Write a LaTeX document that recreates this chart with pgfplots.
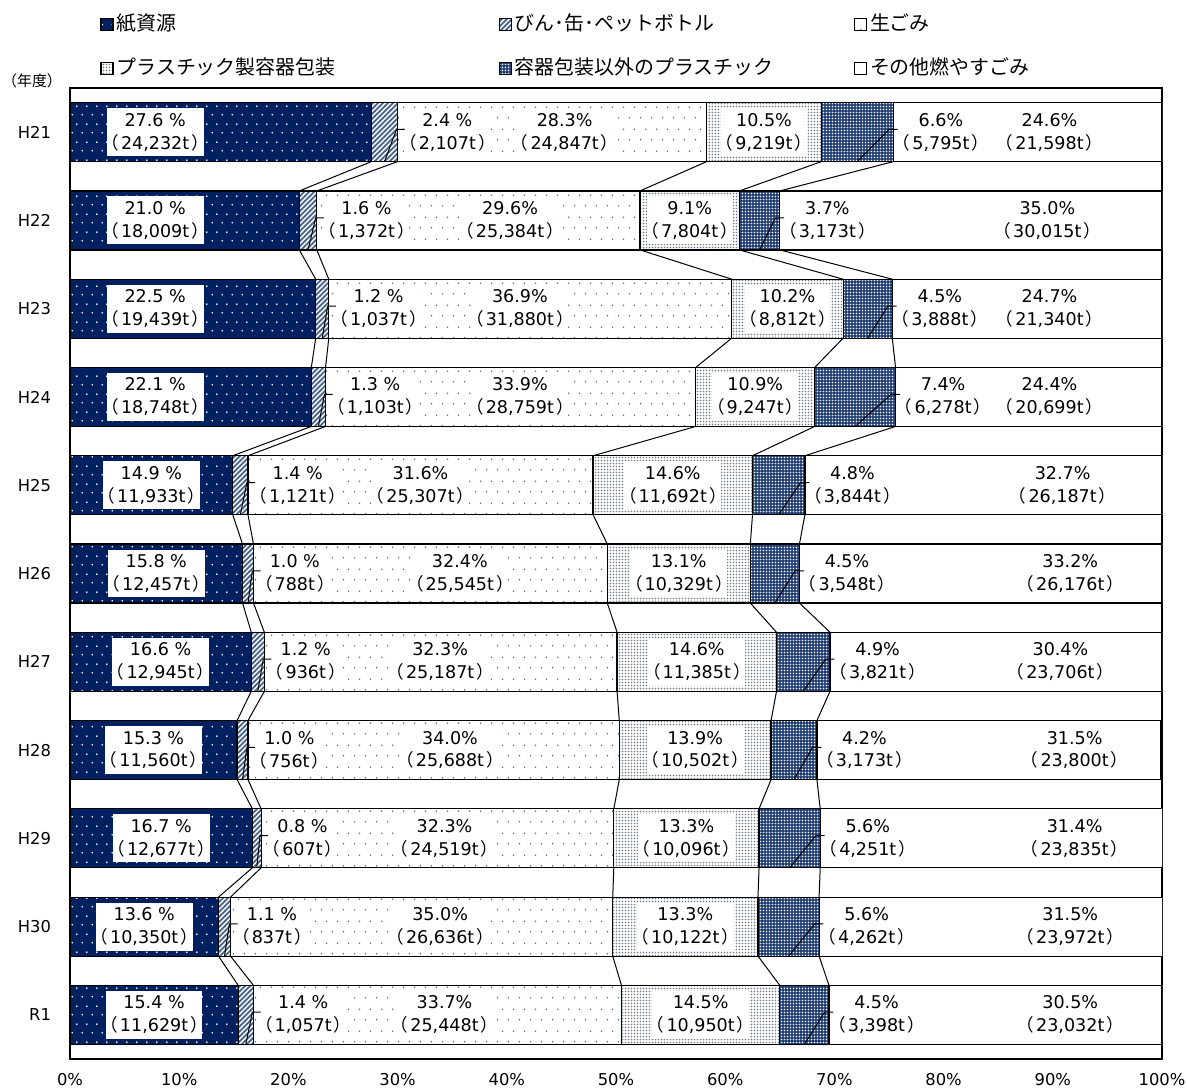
\documentclass[border=0pt]{standalone}
\usepackage{fontspec}
\setmainfont{DejaVu Sans}
\newfontfamily\cjk{Noto Sans CJK JP}
\usepackage{pgfplots}
\pgfplotsset{compat=1.18}
\usepackage{pgfplotstable}
\usetikzlibrary{patterns}

\definecolor{paper}{HTML}{002060}
\definecolor{plas}{HTML}{1F3D73}
\definecolor{hatchc}{HTML}{44607F}
\definecolor{binbg}{HTML}{EEF2F7}
\definecolor{dotgray}{HTML}{707070}
\definecolor{packdot}{HTML}{6F7A8A}

\pgfkeys{/pgf/number format/assume math mode=true}

% fill patterns
\pgfdeclarepatternformonly{paperdots}{\pgfqpoint{0bp}{0bp}}{\pgfqpoint{5bp}{9bp}}{\pgfqpoint{5bp}{9bp}}{%
  \pgfpathcircle{\pgfqpoint{1.25bp}{2.25bp}}{0.5bp}%
  \pgfpathcircle{\pgfqpoint{3.75bp}{6.75bp}}{0.5bp}%
  \pgfusepath{fill}}
\pgfdeclarepatternformonly{fooddots}{\pgfqpoint{0bp}{0bp}}{\pgfqpoint{5.5bp}{11bp}}{\pgfqpoint{5.5bp}{11bp}}{%
  \pgfpathcircle{\pgfqpoint{1.4bp}{2.75bp}}{0.45bp}%
  \pgfpathcircle{\pgfqpoint{4.1bp}{8.25bp}}{0.45bp}%
  \pgfusepath{fill}}
\pgfdeclarepatternformonly{densedots}{\pgfqpoint{0bp}{0bp}}{\pgfqpoint{1.5bp}{1.5bp}}{\pgfqpoint{1.5bp}{1.5bp}}{%
  \pgfpathcircle{\pgfqpoint{0.75bp}{0.75bp}}{0.42bp}%
  \pgfusepath{fill}}
\pgfdeclarepatternformonly{whitedots}{\pgfqpoint{0bp}{0bp}}{\pgfqpoint{1.5bp}{1.5bp}}{\pgfqpoint{1.5bp}{1.5bp}}{%
  \pgfpathcircle{\pgfqpoint{0.75bp}{0.75bp}}{0.42bp}%
  \pgfusepath{fill}}
\pgfdeclarepatternformonly{hatch}{\pgfqpoint{-1bp}{-1bp}}{\pgfqpoint{3.5bp}{3.5bp}}{\pgfqpoint{2.5bp}{2.5bp}}{%
  \pgfsetlinewidth{0.75bp}%
  \pgfpathmoveto{\pgfqpoint{-0.1bp}{-0.1bp}}\pgfpathlineto{\pgfqpoint{2.6bp}{2.6bp}}%
  \pgfusepath{stroke}}

\tikzset{
  lab/.style={fill=white, inner xsep=1bp, inner ysep=2.5bp, align=center,
      font=\fontsize{8.8}{11.5}\selectfont},
  lead/.style={black, line width=0.5bp},
  sl/.style={black, line width=0.5bp},
}

% percent (fiscal year shares) and tonnage
\pgfplotstableread{
row paper bin food pack plas other tpaper tbin tfood tpack tplas tother xpaper xfood xother
0  27.6 2.4 28.3 10.5 6.6 24.6 24232 2107 24847 9219  5795 21598 7.8  45.3 89.7
1  21.0 1.6 29.6 9.1  3.7 35.0 18009 1372 25384 7804  3173 30015 7.8  40.3 89.5
2  22.5 1.2 36.9 10.2 4.5 24.7 19439 1037 31880 8812  3888 21340 7.8  41.2 89.7
3  22.1 1.3 33.9 10.9 7.4 24.4 18748 1103 28759 9247  6278 20699 7.8  41.2 89.7
4  14.9 1.4 31.6 14.6 4.8 32.7 11933 1121 25307 11692 3844 26187 7.45 32.1 90.9
5  15.8 1.0 32.4 13.1 4.5 33.2 12457 788  25545 10329 3548 26176 7.9  35.7 91.6
6  16.6 1.2 32.3 14.6 4.9 30.4 12945 936  25187 11385 3821 23706 8.3  33.9 90.7
7  15.3 1.0 34.0 13.9 4.2 31.5 11560 756  25688 10502 3173 23800 7.65 34.8 92.0
8  16.7 0.8 32.3 13.3 5.6 31.4 12677 607  24519 10096 4251 23835 8.35 34.3 92.0
9  13.6 1.1 35.0 13.3 5.6 31.5 10350 837  26636 10122 4262 23972 6.8  33.9 91.6
10 15.4 1.4 33.7 14.5 4.5 30.5 11629 1057 25448 10950 3398 23032 7.7  34.3 91.6
}\data

\newcommand\getv[3]{\pgfplotstablegetelem{#1}{#2}\of\data\let#3\pgfplotsretval}
\newcommand\tons[1]{\kern-0.42em{\cjk （}\kern0.12em\pgfmathprintnumber[fixed,precision=0,1000 sep={,}]{#1}t\kern0.12em{\cjk ）}\kern-0.42em}
\newcommand\labs[2]{\pgfmathprintnumber[fixed,fixed zerofill,precision=1]{#1} \%\\\tons{#2}}
\newcommand\labn[2]{\pgfmathprintnumber[fixed,fixed zerofill,precision=1]{#1}\%\\\tons{#2}}

\begin{document}
\begin{tikzpicture}
\begin{axis}[
    at={(0,0)}, anchor=south west,
    scale only axis, width=546bp, height=485.5bp,
    xbar stacked, bar width=29.5bp,
    xmin=0, xmax=100, ymin=-0.5, ymax=10.5, y dir=reverse,
    xtick={0,10,...,100},
    xticklabel={\pgfmathprintnumber{\tick}\%},
    ytick={0,...,10},
    yticklabels={H21,H22,H23,H24,H25,H26,H27,H28,H29,H30,R1},
    tick style={draw=none},
    axis line style={black, line width=0.7bp},
    ticklabel style={font=\fontsize{8.2}{9.8}\selectfont},
    yticklabel style={xshift=-6bp},
    xticklabel style={yshift=-3.5bp},
    legend columns=3,
    legend cell align=left,
    legend style={at={(0.0275,1.043)}, anchor=west, draw=none, fill=none,
        inner sep=0pt, row sep=12bp, column sep=0pt,
        font=\cjk\fontsize{10}{12}\selectfont,
        nodes={inner sep=0pt, text height=8bp, text depth=2bp},
        /tikz/every odd column/.append style={column sep=1.5bp}},
    legend image code/.code={\draw[#1] (0bp,-3bp) rectangle (6bp,3bp);},
  ]
  \addplot[draw=black, line width=0.6bp, fill=paper, postaction={pattern=paperdots, pattern color=white}]
    table[x=paper, y=row] {\data};
  \addplot[draw=black, line width=0.6bp, fill=binbg, postaction={pattern=hatch, pattern color=hatchc}]
    table[x=bin, y=row] {\data};
  \addplot[draw=black, line width=0.6bp, fill=white, postaction={pattern=fooddots, pattern color=dotgray}]
    table[x=food, y=row] {\data};
  \addplot[draw=black, line width=0.6bp, fill=white, postaction={pattern=densedots, pattern color=packdot}]
    table[x=pack, y=row] {\data};
  \addplot[draw=black, line width=0.6bp, fill=plas, postaction={pattern=whitedots, pattern color=white}]
    table[x=plas, y=row] {\data};
  \addplot[draw=black, line width=0.6bp, fill=white]
    table[x=other, y=row] {\data};
  \legend{{\makebox[191bp][l]{紙資源}},{\makebox[169.5bp][l]{びん･缶･ペットボトル}},{\makebox[100bp][l]{生ごみ}},
          {\makebox[191bp][l]{プラスチック製容器包装}},{\makebox[169.5bp][l]{容器包装以外のプラスチック}},{\makebox[100bp][l]{その他燃やすごみ}}}

  % label anchors and leader points, row by row (drawn after the axis)
  \pgfplotsinvokeforeach{0,...,10}{%
    \getv{#1}{paper}\va \getv{#1}{bin}\vb \getv{#1}{food}\vc
    \getv{#1}{pack}\vd \getv{#1}{plas}\ve \getv{#1}{other}\vf
    \getv{#1}{tpaper}\ta \getv{#1}{tbin}\tb \getv{#1}{tfood}\tc
    \getv{#1}{tpack}\td \getv{#1}{tplas}\te \getv{#1}{tother}\tf
    \getv{#1}{xpaper}\xa \getv{#1}{xfood}\xc \getv{#1}{xother}\xf
    \pgfmathsetmacro\cA{\va}
    \pgfmathsetmacro\cB{\cA+\vb}
    \pgfmathsetmacro\cC{\cB+\vc}
    \pgfmathsetmacro\cD{\cC+\vd}
    \pgfmathsetmacro\cE{\cD+\ve}
    \expandafter\xdef\csname cumA#1\endcsname{\cA}
    \expandafter\xdef\csname cumB#1\endcsname{\cB}
    \expandafter\xdef\csname cumC#1\endcsname{\cC}
    \expandafter\xdef\csname cumD#1\endcsname{\cD}
    \expandafter\xdef\csname cumE#1\endcsname{\cE}
    \expandafter\xdef\csname txa#1\endcsname{\noexpand\labs{\va}{\ta}}
    \expandafter\xdef\csname txb#1\endcsname{\noexpand\labs{\vb}{\tb}}
    \expandafter\xdef\csname txc#1\endcsname{\noexpand\labn{\vc}{\tc}}
    \expandafter\xdef\csname txd#1\endcsname{\noexpand\labn{\vd}{\td}}
    \expandafter\xdef\csname txe#1\endcsname{\noexpand\labn{\ve}{\te}}
    \expandafter\xdef\csname txf#1\endcsname{\noexpand\labn{\vf}{\tf}}
    \pgfmathsetmacro\xd{(\cC+\cD)/2}
    \pgfmathsetmacro\mB{(\cA+\cB)/2}
    \pgfmathsetmacro\mE{(\cD+\cE)/2}
    \pgfmathsetmacro\yb{#1+0.334}
    \pgfmathsetmacro\yt{#1-0.03}
    \pgfmathsetmacro\bL{\cB+0.6}
    \pgfmathsetmacro\bM{\cB-0.1}
    \pgfmathsetmacro\bP{\cB+0.65}
    \pgfmathsetmacro\eL{\cE+0.4}
    \pgfmathsetmacro\eM{\cE-0.4}
    \pgfmathsetmacro\eP{\cE+0.4}
    \edef\tmp{%
      \noexpand\coordinate (pa#1) at (axis cs:\xa,#1);
      \noexpand\coordinate (pb#1) at (axis cs:\bL,#1);
      \noexpand\coordinate (pc#1) at (axis cs:\xc,#1);
      \noexpand\coordinate (pd#1) at (axis cs:\xd,#1);
      \noexpand\coordinate (pe#1) at (axis cs:\eL,#1);
      \noexpand\coordinate (pf#1) at (axis cs:\xf,#1);
      \noexpand\coordinate (bA#1) at (axis cs:\mB,\yb);
      \noexpand\coordinate (bB#1) at (axis cs:\bM,\yt);
      \noexpand\coordinate (bC#1) at (axis cs:\bP,\yt);
      \noexpand\coordinate (eA#1) at (axis cs:\mE,\yb);
      \noexpand\coordinate (eB#1) at (axis cs:\eM,\yt);
      \noexpand\coordinate (eC#1) at (axis cs:\eP,\yt);
    }\tmp
  }

  % series lines between neighbouring bars
  \pgfplotsinvokeforeach{0,...,9}{%
    \pgfmathtruncatemacro\nx{#1+1}
    \pgfmathsetmacro\ya{#1+0.334}
    \pgfmathsetmacro\yn{#1+1-0.334}
    \edef\tmp{%
      \noexpand\draw[sl] (axis cs:\csname cumA#1\endcsname,\ya) -- (axis cs:\csname cumA\nx\endcsname,\yn);
      \noexpand\draw[sl] (axis cs:\csname cumB#1\endcsname,\ya) -- (axis cs:\csname cumB\nx\endcsname,\yn);
      \noexpand\draw[sl] (axis cs:\csname cumC#1\endcsname,\ya) -- (axis cs:\csname cumC\nx\endcsname,\yn);
      \noexpand\draw[sl] (axis cs:\csname cumD#1\endcsname,\ya) -- (axis cs:\csname cumD\nx\endcsname,\yn);
      \noexpand\draw[sl] (axis cs:\csname cumE#1\endcsname,\ya) -- (axis cs:\csname cumE\nx\endcsname,\yn);
    }\tmp
  }
\end{axis}
\foreach \i in {0,...,10}{
  \node[lab] at (pa\i) {\csname txa\i\endcsname};
  \node[lab, anchor=west] at (pb\i) {\csname txb\i\endcsname};
  \node[lab] at (pc\i) {\csname txc\i\endcsname};
  \node[lab] at (pd\i) {\csname txd\i\endcsname};
  \node[lab, anchor=west] at (pe\i) {\csname txe\i\endcsname};
  \node[lab] at (pf\i) {\csname txf\i\endcsname};
  \draw[lead] (bA\i) -- (bB\i) -- (bC\i);
  \draw[lead] (eA\i) -- (eB\i) -- (eC\i);
}
\node[font=\cjk\fontsize{7.5}{9}\selectfont] at (-19bp,489bp) {（年度）};
\pgfresetboundingbox
\useasboundingbox (-35bp,-16bp) rectangle (558.5bp,529.5bp);
\end{tikzpicture}
\end{document}
